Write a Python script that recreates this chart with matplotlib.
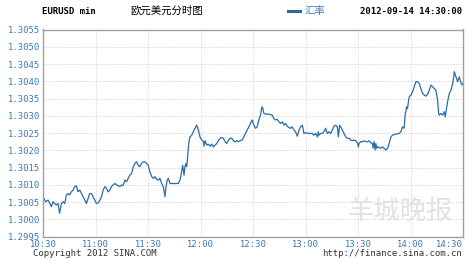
import numpy as np
import matplotlib
matplotlib.use("Agg")
import matplotlib.pyplot as plt

plt.rcParams['font.family'] = ['DejaVu Sans Mono', 'Noto Sans CJK SC']

# minutes after 10:30 and EUR/USD rate
minutes = [0.0, 1.5, 2.9, 4.8, 5.7, 7.6, 8.6, 9.5, 10.5, 11.5, 12.4, 13.4, 14.3, 15.3, 16.2,
           17.2, 18.1, 19.1, 20.0, 21.0, 22.0, 22.9, 23.9, 24.8, 25.8, 26.7, 27.7, 28.6, 29.6,
           30.5, 31.5, 32.5, 33.4, 34.4, 35.3, 36.3, 37.2, 38.2, 39.1, 40.1, 41.1, 42.0, 43.0,
           43.9, 44.9, 45.8, 46.8, 47.7, 48.7, 49.6, 50.6, 51.6, 52.5, 53.5, 54.4, 55.4, 56.3,
           57.3, 58.2, 59.2, 60.1, 61.1, 62.1, 63.0, 64.0, 64.9, 65.9, 66.8, 67.8, 68.7, 69.1,
           69.7, 70.3, 71.0, 71.6, 72.6, 74.5, 76.4, 77.3, 78.3, 79.2, 79.8, 80.2, 80.6, 81.1,
           81.7, 82.1, 82.5, 83.1, 83.6, 84.0, 85.0, 85.9, 86.9, 87.8, 88.8, 89.7, 90.7, 91.7,
           92.0, 92.6, 93.6, 94.5, 95.5, 96.4, 97.4, 98.3, 99.3, 100.2, 101.2, 102.1, 103.1,
           104.1, 105.0, 106.0, 106.9, 107.9, 108.8, 109.8, 110.7, 111.7, 112.7,
           113.8, 114.8, 115.7, 116.7, 117.6, 118.6, 119.5, 120.5, 121.4, 122.4, 123.3, 124.3,
           124.9, 125.3, 125.8, 126.2, 127.2, 129.1, 131.0, 131.9, 132.9, 133.8, 134.8, 135.8,
           136.7, 137.7, 138.6, 139.6, 140.5, 141.5, 142.4, 143.4, 144.3, 145.3, 146.3, 147.2,
           148.2, 148.7, 149.1, 150.1, 152.0, 153.9, 154.8, 155.8, 156.8, 157.3, 157.7, 158.7,
           159.6, 160.6, 161.5, 162.5, 163.4, 164.4, 165.3, 166.3, 167.3, 168.2, 168.8, 169.2,
           169.5, 170.1, 171.1, 172.0, 173.0, 173.9, 174.9, 175.8, 176.8, 177.8, 178.7, 179.7,
           180.2, 180.6, 181.6, 182.5, 183.5, 184.4, 185.4, 186.3, 187.3, 188.3, 188.6, 189.2,
           189.8, 190.2, 190.7, 191.1, 192.1, 193.0, 194.0, 194.9, 195.9, 196.9, 197.8, 198.8,
           199.7, 201.6, 203.5, 204.5, 205.4, 206.4, 207.0, 207.4, 207.7, 208.3, 208.9, 209.3,
           210.2, 211.2, 212.1, 213.1, 214.0, 215.0, 215.9, 216.9, 217.8, 218.8, 219.8, 220.7,
           221.7, 222.6, 223.6, 224.5, 225.5, 226.1, 226.4, 227.4, 228.4, 229.3, 229.9, 230.3,
           231.2, 232.2, 233.1, 234.1, 234.7, 235.0, 236.0, 236.9, 237.5, 237.9, 238.9, 239.8,
           240.0]
rate = [1.30066, 1.30051, 1.30056, 1.30037, 1.30051, 1.30042, 1.30046, 1.30018, 1.30046, 1.30051,
        1.30046, 1.30071, 1.30075, 1.30071, 1.30080, 1.30085, 1.30095, 1.30097, 1.30080, 1.30085,
        1.30075, 1.30066, 1.30056, 1.30046, 1.30061, 1.30075, 1.30075, 1.30066, 1.30056, 1.30046,
        1.30048, 1.30056, 1.30066, 1.30085, 1.30095, 1.30090, 1.30080, 1.30085, 1.30095, 1.30100,
        1.30104, 1.30100, 1.30098, 1.30095, 1.30100, 1.30098, 1.30114, 1.30109, 1.30119, 1.30128,
        1.30133, 1.30153, 1.30162, 1.30167, 1.30157, 1.30153, 1.30162, 1.30167, 1.30167, 1.30162,
        1.30157, 1.30138, 1.30124, 1.30119, 1.30124, 1.30116, 1.30114, 1.30119, 1.30104, 1.30095,
        1.30085, 1.30066, 1.30095, 1.30114, 1.30119, 1.30104, 1.30104, 1.30104, 1.30104, 1.30114,
        1.30138, 1.30157, 1.30143, 1.30128, 1.30153, 1.30162, 1.30153, 1.30172, 1.30210, 1.30230,
        1.30239, 1.30244, 1.30254, 1.30264, 1.30273, 1.30259, 1.30239, 1.30230, 1.30225, 1.30212,
        1.30228, 1.30215, 1.30218, 1.30212, 1.30218, 1.30210, 1.30215, 1.30220, 1.30228, 1.30235,
        1.30237, 1.30235, 1.30225, 1.30220, 1.30230, 1.30235, 1.30235, 1.30228, 1.30225, 1.30228,
        1.30225, 1.30228,
        1.30230, 1.30239, 1.30249, 1.30259, 1.30268, 1.30278, 1.30288, 1.30273, 1.30264, 1.30268,
        1.30288, 1.30302, 1.30321, 1.30326, 1.30317, 1.30307, 1.30305, 1.30305, 1.30302, 1.30292,
        1.30288, 1.30290, 1.30283, 1.30278, 1.30283, 1.30273, 1.30278, 1.30270, 1.30266, 1.30264,
        1.30268, 1.30259, 1.30254, 1.30241, 1.30259, 1.30268, 1.30273, 1.30259, 1.30249, 1.30251,
        1.30249, 1.30249, 1.30244, 1.30249, 1.30239, 1.30254, 1.30244, 1.30249, 1.30249, 1.30254,
        1.30264, 1.30249, 1.30254, 1.30249, 1.30259, 1.30270, 1.30273, 1.30268, 1.30239, 1.30259,
        1.30273, 1.30268, 1.30259, 1.30249, 1.30239, 1.30235, 1.30235, 1.30230, 1.30228, 1.30230,
        1.30228, 1.30222, 1.30210, 1.30220, 1.30225, 1.30225, 1.30228, 1.30225, 1.30225, 1.30228,
        1.30222, 1.30220, 1.30206, 1.30225, 1.30201, 1.30220, 1.30206, 1.30210, 1.30209, 1.30206,
        1.30210, 1.30206, 1.30201, 1.30206, 1.30220, 1.30239, 1.30244, 1.30247, 1.30249, 1.30254,
        1.30268, 1.30264, 1.30307, 1.30312, 1.30326, 1.30321, 1.30345, 1.30355, 1.30360, 1.30370,
        1.30384, 1.30399, 1.30399, 1.30394, 1.30379, 1.30365, 1.30360, 1.30357, 1.30363, 1.30374,
        1.30389, 1.30384, 1.30379, 1.30374, 1.30345, 1.30307, 1.30302, 1.30307, 1.30302, 1.30312,
        1.30297, 1.30312, 1.30341, 1.30365, 1.30374, 1.30394, 1.30413, 1.30428, 1.30413, 1.30399,
        1.30408, 1.30413, 1.30394, 1.30389, 1.30394]

yticks = [1.2995, 1.3000, 1.3005, 1.3010, 1.3015, 1.3020, 1.3025, 1.3030,
          1.3035, 1.3040, 1.3045, 1.3050, 1.3055]
xtick_pos = [0, 30, 60, 90, 120, 150, 180, 210, 240]
xtick_lab = ['10:30', '11:00', '11:30', '12:00', '12:30', '13:00', '13:30', '14:00', '14:30']

blue = '#2b6ca6'
lab_blue = '#3a78b8'

fig = plt.figure(figsize=(4.72, 2.60), dpi=100)
ax = fig.add_axes([43 / 472, 1 - 236.7 / 260, 420 / 472, 207.2 / 260])

ax.plot(minutes, rate, color=blue, lw=0.9)
ax.set_xlim(0, 240)
ax.set_ylim(1.2995, 1.3055)
ax.set_yticks(yticks)
ax.set_yticklabels(['%.4f' % v for v in yticks])
ax.set_xticks(xtick_pos)
ax.set_xticklabels(xtick_lab)
ax.tick_params(length=0, labelsize=6.4, colors=lab_blue, pad=2)
ax.tick_params(axis='x', pad=2.5)
# last time label sits inside the right edge, as on the original
ax.get_xticklabels()[-1].set_horizontalalignment('right')
ax.grid(True, color='#c8c8c8', lw=0.6, ls=(0, (1, 1.5)))
for s in ax.spines.values():
    s.set_color('#a0a0a0')
    s.set_linewidth(1.0)

# watermark
fig.text(400 / 472, 1 - 212 / 260, '羊城晚报', fontsize=19, color='#e2e2e2',
         ha='center', va='center', family=['Noto Sans CJK SC'], zorder=0.5)

# header
fig.text(42 / 472, 1 - 11 / 260, 'EURUSD min', fontsize=6.5, fontweight='bold', va='center')
fig.text(130 / 472, 1 - 11 / 260, '欧元美元分时图', fontsize=7.5, va='center',
         family=['Noto Sans CJK SC'])
fig.lines.append(plt.Line2D([288 / 472, 300 / 472], [1 - 11 / 260, 1 - 11 / 260],
                            color=blue, lw=2.2, transform=fig.transFigure))
fig.text(305 / 472, 1 - 11 / 260, '汇率', fontsize=7.5, va='center', color=lab_blue,
         family=['Noto Sans CJK SC'])
fig.text(462 / 472, 1 - 11 / 260, '2012-09-14 14:30:00', fontsize=6.5, fontweight='bold',
         ha='right', va='center')

# footer
fig.text(33 / 472, 1 - 254 / 260, 'Copyright 2012 SINA.COM', fontsize=6.5, color='#333333',
         va='center')
fig.text(462 / 472, 1 - 254 / 260, 'http://finance.sina.com.cn', fontsize=6.5,
         color='#333333', ha='right', va='center')

fig.savefig('out.png', dpi=100)
